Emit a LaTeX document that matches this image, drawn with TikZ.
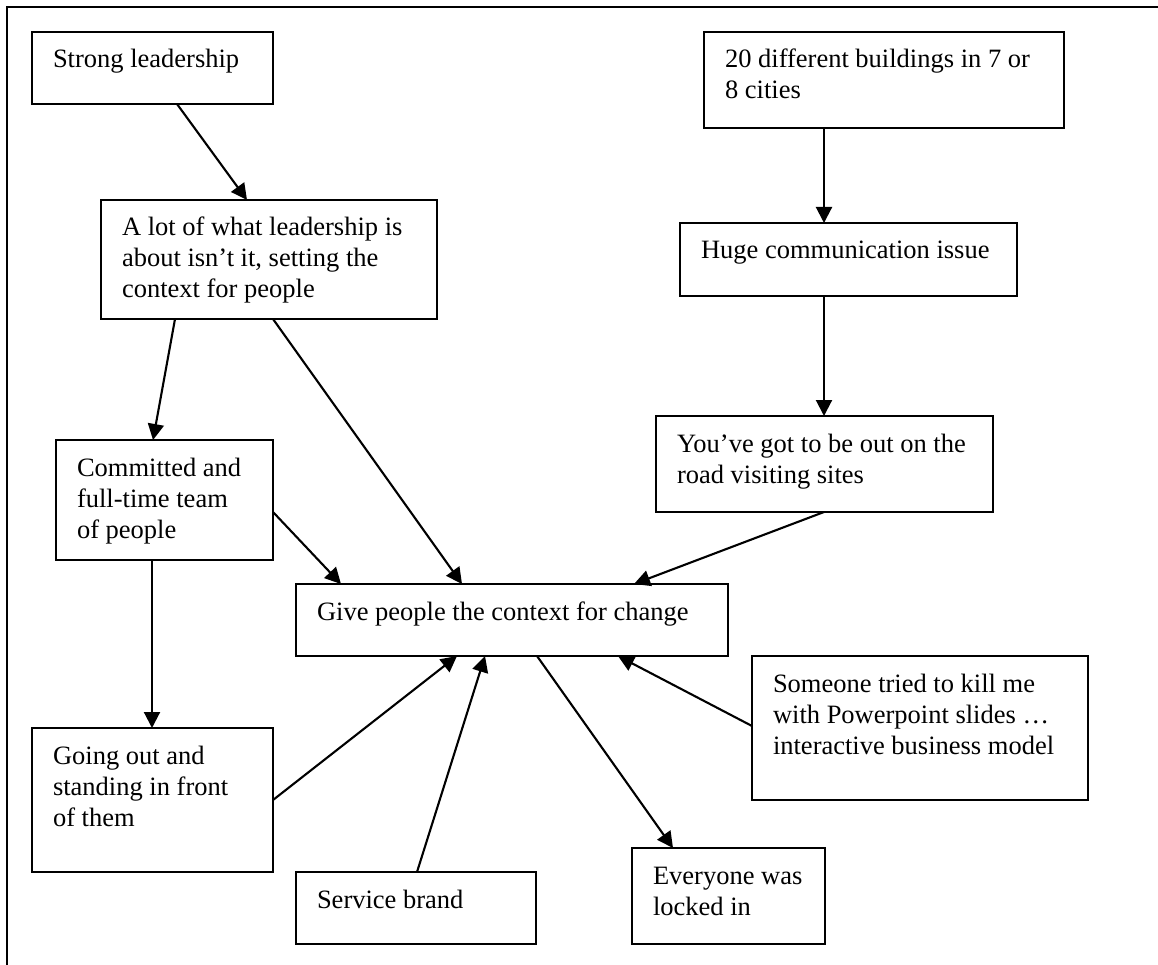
\documentclass[tikz,border=0pt]{standalone}
\usepackage{fontspec}
\setmainfont{Liberation Serif}
\usetikzlibrary{arrows.meta,calc}
\tikzset{
  box/.style={draw=black, line width=2.5pt, rectangle, inner sep=0pt, outer sep=0pt, anchor=north west, fill=white},
  txt/.style={anchor=base west, inner sep=0pt, outer sep=0pt, font=\fontsize{26.5pt}{31pt}\selectfont},
  arr/.style={draw=black, line width=2.1pt, -{Triangle[length=16pt,width=16pt]}},
  frame/.style={draw=black, line width=2.6pt}
}
\newcommand{\lines}[1]{\parbox[t]{400pt}{\raggedright #1}}
\begin{document}
\begin{tikzpicture}[x=1pt,y=-1pt]
\useasboundingbox (0,0) rectangle (1158,965);
\coordinate (fb) at (7,965);
\coordinate (ftl) at (7,7);
\coordinate (fr) at (1158,7);
\draw[frame] (fb) -- (ftl) -- (fr);

% boxes
\node[box, minimum width=241pt, minimum height=72pt] (sl) at (32,32) {};
\node[box, minimum width=360pt, minimum height=96pt] (bd) at (704,32) {};
\node[box, minimum width=336pt, minimum height=119pt] (al) at (101,200) {};
\node[box, minimum width=337pt, minimum height=73pt] (hc) at (680,223) {};
\node[box, minimum width=337pt, minimum height=96pt] (yg) at (656,416) {};
\node[box, minimum width=217pt, minimum height=120pt] (cm) at (56,440) {};
\node[box, minimum width=432pt, minimum height=72pt] (gv) at (296,584) {};
\node[box, minimum width=336pt, minimum height=144pt] (so) at (752,656) {};
\node[box, minimum width=241pt, minimum height=144pt] (go) at (32,728) {};
\node[box, minimum width=240pt, minimum height=72pt] (sb) at (296,872) {};
\node[box, minimum width=193pt, minimum height=96pt] (ev) at (632,848) {};

% texts
\node[txt] (slt) at ($(sl.north west)+(21,36)$) {\lines{Strong leadership}};
\node[txt] (bdt) at ($(bd.north west)+(21,36)$) {\lines{20 different buildings in 7 or\\8 cities}};
\node[txt] (alt) at ($(al.north west)+(21,36)$) {\lines{A lot of what leadership is\\about isn’t it, setting the\\context for people}};
\node[txt] (hct) at ($(hc.north west)+(21,36)$) {\lines{Huge communication issue}};
\node[txt] (ygt) at ($(yg.north west)+(21,36)$) {\lines{You’ve got to be out on the\\road visiting sites}};
\node[txt] (cmt) at ($(cm.north west)+(21,36)$) {\lines{Committed and\\full-time team\\of people}};
\node[txt] (gvt) at ($(gv.north west)+(21,36)$) {\lines{Give people the context for change}};
\node[txt] (sot) at ($(so.north west)+(21,36)$) {\lines{Someone tried to kill me\\with Powerpoint slides …\\interactive business model}};
\node[txt] (got) at ($(go.north west)+(21,36)$) {\lines{Going out and\\standing in front\\of them}};
\node[txt] (sbt) at ($(sb.north west)+(21,36)$) {\lines{Service brand}};
\node[txt] (evt) at ($(ev.north west)+(21,36)$) {\lines{Everyone was\\locked in}};

% connectors
\draw[arr] ($(sl.south west)+(145,0)$) -- ($(al.north west)+(146,0)$);
\draw[arr] ($(al.south west)+(74,0)$) -- ($(cm.north west)+(97,0)$);
\draw[arr] ($(al.south west)+(172,0)$) -- ($(gv.north west)+(166,0)$);
\draw[arr] ($(bd.south west)+(120,0)$) -- ($(hc.north west)+(144,0)$);
\draw[arr] ($(hc.south west)+(144,0)$) -- ($(yg.north west)+(168,0)$);
\draw[arr] ($(yg.south west)+(168,0)$) -- ($(gv.north west)+(338,0)$);
\draw[arr] ($(cm.north east)+(0,72)$) -- ($(gv.north west)+(45,0)$);
\draw[arr] ($(cm.south west)+(96,0)$) -- ($(go.north west)+(120,0)$);
\draw[arr] ($(go.north east)+(0,72)$) -- ($(gv.south west)+(161,0)$);
\draw[arr] ($(sb.north west)+(121,0)$) -- ($(gv.south west)+(189,0)$);
\draw[arr] ($(gv.south west)+(241,0)$) -- ($(ev.north west)+(41,0)$);
\draw[arr] ($(so.north west)+(0,70)$) -- ($(gv.south west)+(322,0)$);
\end{tikzpicture}
\end{document}
